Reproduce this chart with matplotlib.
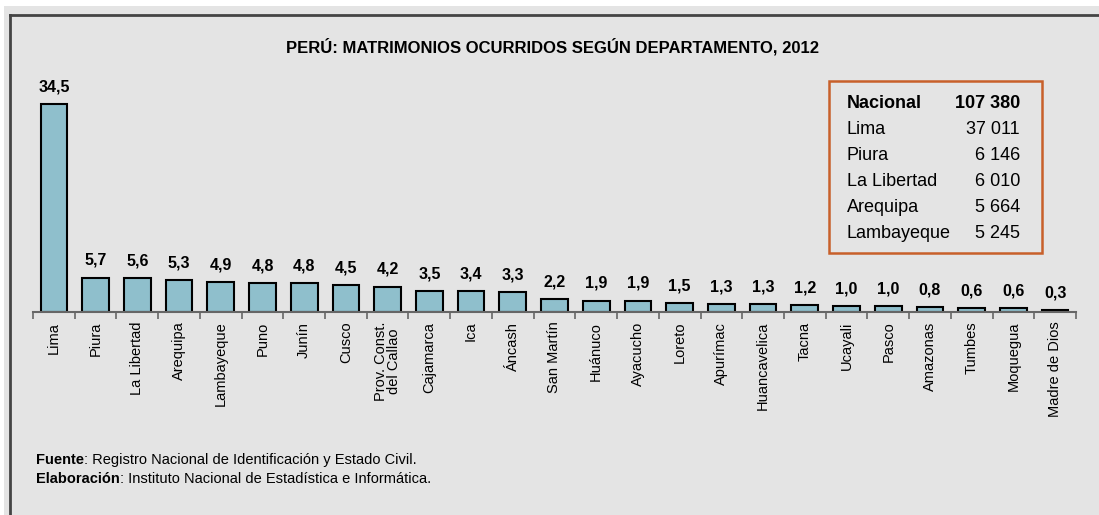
import matplotlib
matplotlib.use("Agg")
import matplotlib.pyplot as plt
from matplotlib.patches import Rectangle
from matplotlib.lines import Line2D
import numpy as np

# data
departamentos = ["Lima", "Piura", "La Libertad", "Arequipa", "Lambayeque", "Puno", "Junín",
                 "Cusco", "Prov. Const.\ndel Callao", "Cajamarca", "Ica", "Áncash", "San Martín",
                 "Huánuco", "Ayacucho", "Loreto", "Apurímac", "Huancavelica", "Tacna", "Ucayali",
                 "Pasco", "Amazonas", "Tumbes", "Moquegua", "Madre de Dios"]
porcentaje = [34.5, 5.7, 5.6, 5.3, 4.9, 4.8, 4.8, 4.5, 4.2, 3.5, 3.4, 3.3, 2.2,
              1.9, 1.9, 1.5, 1.3, 1.3, 1.2, 1.0, 1.0, 0.8, 0.6, 0.6, 0.3]
box_nombres = ["Nacional", "Lima", "Piura", "La Libertad", "Arequipa", "Lambayeque"]
box_valores = ["107 380", "37 011", "6 146", "6 010", "5 664", "5 245"]

plt.rcParams['font.family'] = ['Liberation Sans', 'DejaVu Sans']

W, H = 1099, 515
fig = plt.figure(figsize=(W / 100, H / 100), dpi=100)
fig.patch.set_facecolor("white")

# grey panel + frame
fig.patches.append(Rectangle((4 / W, 0), 1, (H - 6) / H, transform=fig.transFigure,
                             facecolor="#e4e4e4", edgecolor="none", zorder=-5))
fig.lines.append(Line2D([10 / W, 1], [(H - 15) / H] * 2, transform=fig.transFigure,
                        color="#444444", lw=2, zorder=-4))
fig.lines.append(Line2D([10 / W] * 2, [0, (H - 15) / H], transform=fig.transFigure,
                        color="#444444", lw=2, zorder=-4))

ax = fig.add_axes([33 / W, (H - 312) / H, (1076 - 33) / W, 222 / H])
ax.set_facecolor("none")
x = np.arange(len(departamentos))
ax.bar(x, porcentaje, width=0.64, color="#8fbfcc", edgecolor="black", linewidth=1.5, zorder=2)
for xi, v in zip(x, porcentaje):
    ax.annotate(f"{v:.1f}".replace(".", ","), (xi, v), xytext=(0, 7), textcoords="offset points",
                ha="center", va="bottom", fontsize=11.5, fontweight="bold")

ax.set_xlim(-0.5, len(departamentos) - 0.5)
ax.set_ylim(0, 222 / 6.03)
for s in ["top", "right", "left"]:
    ax.spines[s].set_visible(False)
ax.spines["bottom"].set_color("#666666")
ax.spines["bottom"].set_linewidth(1.5)
ax.set_yticks([])
ax.set_xticks(x)
ax.set_xticklabels(departamentos, rotation=90, fontsize=10.5, linespacing=0.95)
ax.tick_params(axis="x", which="major", length=0, pad=7)
ax.set_xticks(np.arange(-0.5, len(departamentos), 1), minor=True)
ax.tick_params(axis="x", which="minor", length=5, width=1.2, color="#666666", direction="out")

fig.text(553 / W, (H - 47) / H, "PERÚ: MATRIMONIOS OCURRIDOS SEGÚN DEPARTAMENTO, 2012",
         ha="center", va="center", fontsize=12, fontweight="bold")

# summary box
fig.patches.append(Rectangle((829 / W, (H - 253) / H), (1042 - 829) / W, (253 - 81) / H,
                             transform=fig.transFigure, facecolor="none",
                             edgecolor="#c8602a", lw=1.8, zorder=3))
for i, (n, v) in enumerate(zip(box_nombres, box_valores)):
    yy = (H - (103 + 26 * i)) / H
    w = "bold" if i == 0 else "normal"
    fig.text(847 / W, yy, n, ha="left", va="center", fontsize=13, fontweight=w)
    fig.text(1020 / W, yy, v, ha="right", va="center", fontsize=13, fontweight=w)

# footnotes: bold lead word followed by normal text
fig.canvas.draw()
for yy, lead, rest in [(460, "Fuente", ": Registro Nacional de Identificación y Estado Civil."),
                       (479, "Elaboración", ": Instituto Nacional de Estadística e Informática.")]:
    t = fig.text(36 / W, (H - yy) / H, lead, ha="left", va="center", fontsize=10.5,
                 fontweight="bold")
    bb = t.get_window_extent(renderer=fig.canvas.get_renderer())
    fig.text(bb.x1 / W, (H - yy) / H, rest, ha="left", va="center", fontsize=10.5)

fig.savefig("out.png", dpi=100, facecolor=fig.get_facecolor())
